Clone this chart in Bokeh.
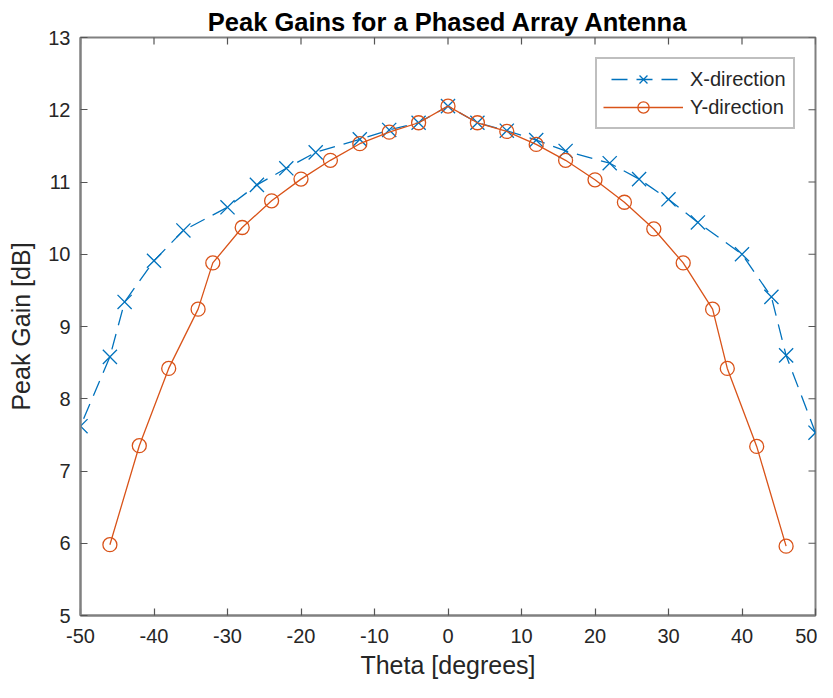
import math
from bokeh.plotting import figure
from bokeh.models import FixedTicker, Range1d, Legend, LegendItem
from bokeh.embed import file_html
from bokeh.resources import INLINE

# ---- data ----
theta_x = [-50, -46, -44, -40, -36, -30, -26, -22, -18, -12, -8, -4, 0,
           4, 8, 12, 16, 22, 26, 30, 34, 40, 44, 46, 50]
gain_x = [7.62, 8.58, 9.34, 9.91, 10.33, 10.65, 10.96, 11.19, 11.41, 11.59, 11.72, 11.82, 12.05,
          11.82, 11.71, 11.58, 11.43, 11.26, 11.04, 10.76, 10.44, 10.00, 9.41, 8.60, 7.53]

theta_y = [-46, -42, -38, -34, -32, -28, -24, -20, -16, -12, -8, -4, 0,
           4, 8, 12, 16, 20, 24, 28, 32, 36, 38, 42, 46]
gain_y = [5.98, 7.35, 8.42, 9.24, 9.88, 10.37, 10.74, 11.04, 11.30, 11.53, 11.69, 11.82, 12.05,
          11.82, 11.70, 11.52, 11.30, 11.03, 10.72, 10.35, 9.88, 9.24, 8.42, 7.34, 5.96]

x_ticks = [-50, -40, -30, -20, -10, 0, 10, 20, 30, 40, 50]
x_tick_labels = ["-50", "-40", "-30", "-20", "-10", "0", "10", "20", "30", "40", "50"]
y_ticks = [5, 6, 7, 8, 9, 10, 11, 12, 13]
y_tick_labels = ["5", "6", "7", "8", "9", "10", "11", "12", "13"]

FONT = "Liberation Sans"
AXC = "#808080"
TICKC = "#555555"
TXT = "#262626"
BLUE = "#0072BD"
ORANGE = "#D95319"

p = figure(width=817, height=682,
           x_range=Range1d(x_ticks[0], x_ticks[-1]), y_range=Range1d(y_ticks[0], y_ticks[-1]),
           output_backend="svg", toolbar_location=None,
           min_border_left=80, min_border_right=2, min_border_top=37, min_border_bottom=67,
           title="Peak Gains for a Phased Array Antenna")
p.title.align = "center"
p.title.text_font = FONT
p.title.text_font_size = "25.5px"
p.title.text_font_style = "bold"
p.title.text_color = "#000000"
p.title.standoff = 4
p.outline_line_color = AXC
p.outline_line_width = 2
p.xgrid.visible = False
p.ygrid.visible = False
p.background_fill_color = "white"
p.border_fill_color = "white"

p.xaxis.axis_label = "Theta [degrees]"
p.yaxis.axis_label = "Peak Gain [dB]"
p.xaxis.ticker = FixedTicker(ticks=x_ticks)
p.yaxis.ticker = FixedTicker(ticks=y_ticks)
p.xaxis.major_label_overrides = dict(zip(x_ticks, x_tick_labels))
p.yaxis.major_label_overrides = dict(zip(y_ticks, y_tick_labels))

for ax in (p.xaxis[0], p.yaxis[0]):
    ax.axis_line_color = AXC
    ax.axis_line_width = 2
    ax.major_tick_line_color = TICKC
    ax.major_tick_line_width = 1.2
    ax.major_tick_in = 7
    ax.major_tick_out = 0
    ax.minor_tick_line_color = None
    ax.major_label_text_font = FONT
    ax.major_label_text_font_size = "20px"
    ax.major_label_text_color = TXT
    ax.axis_label_text_font = FONT
    ax.axis_label_text_font_size = "25px"
    ax.axis_label_text_font_style = "normal"
    ax.axis_label_text_color = TXT

p.xaxis[0].major_label_standoff = 13
p.xaxis[0].axis_label_standoff = 5
p.yaxis[0].major_label_standoff = 10
p.yaxis[0].axis_label_standoff = 10

# inward ticks on the top and right edges of the box (outer halves are clipped by the frame)
p.scatter(x_ticks, [y_ticks[-1]] * len(x_ticks), marker="dash", size=14, angle=math.pi / 2,
          line_color=TICKC, line_width=1.2)
p.scatter([x_ticks[-1]] * len(y_ticks), y_ticks, marker="dash", size=14,
          line_color=TICKC, line_width=1.2)

lx = p.line(theta_x, gain_x, line_color=BLUE, line_width=1.3, line_dash="16 9",
            line_dash_offset=17)
sx = p.scatter(theta_x, gain_x, marker="x", size=20, line_color=BLUE, line_width=1.3)
ly = p.line(theta_y, gain_y, line_color=ORANGE, line_width=1.3)
sy = p.scatter(theta_y, gain_y, marker="circle", size=14, line_color=ORANGE,
               fill_color=None, line_width=1.3)

legend = Legend(items=[LegendItem(label="X-direction", renderers=[lx, sx]),
                       LegendItem(label="Y-direction", renderers=[ly, sy])],
                location="top_right")
legend.margin = 20
legend.padding = 6
legend.spacing = -2
legend.glyph_width = 80
legend.glyph_height = 28
legend.label_height = 28
legend.label_width = 97
legend.label_standoff = 7
legend.label_text_font = FONT
legend.label_text_font_size = "20px"
legend.label_text_color = TXT
legend.border_line_color = AXC
legend.border_line_width = 2
legend.background_fill_color = "white"
legend.background_fill_alpha = 1.0
p.add_layout(legend, "center")

open("out.html", "w").write(file_html(p, INLINE))
